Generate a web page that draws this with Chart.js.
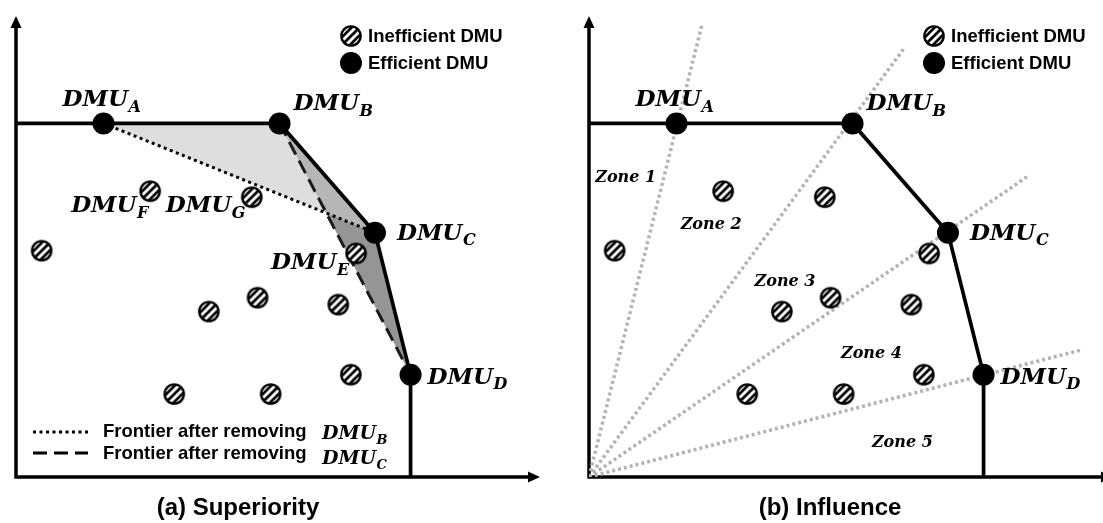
<!DOCTYPE html>
<html>
<head>
<meta charset="utf-8">
<script src="https://cdn.jsdelivr.net/npm/chart.js@4.4.0/dist/chart.umd.min.js"></script>
<style>
html, body { margin: 0; padding: 0; background: #fff; overflow: hidden; width: 1103px; height: 523px; }
.panel { position: absolute; top: 0; width: 551px; height: 523px; }
</style>
</head>
<body>
<div class="panel" style="left:0"><canvas id="chartA"></canvas></div>
<div class="panel" style="left:573px"><canvas id="chartB"></canvas></div>
<script>
// DMU positions (both panels show the same DMUs), axes run 0..100
const effNames = ['A', 'B', 'C', 'D'];
const effX = [16.7, 50.3, 68.5, 75.3];
const effY = [76.7, 76.7, 53.0, 22.2];

const ineffNames = ['F', 'G', '', 'E', '', '', '', '', '', ''];
const ineffX = [25.6, 45.0, 4.9, 64.9, 36.8, 46.1, 61.5, 63.9, 30.2, 48.6];
const ineffY = [62.0, 60.7, 49.1, 48.5, 35.9, 38.9, 37.4, 22.2, 18.0, 18.0];

// zone boundaries in panel (b): rays from the origin
const rayEndX = [21.6, 60.0, 83.7, 94.1];
const rayEndY = [98.3, 92.8, 65.2, 27.6];

const zoneNames = ['Zone 1', 'Zone 2', 'Zone 3', 'Zone 4', 'Zone 5'];
const zoneX = [7.0, 23.3, 37.4, 53.9, 59.8];
const zoneY = [65.0, 54.8, 42.4, 26.7, 7.4];

const SERIF = '"DejaVu Serif", "Liberation Serif", serif';
const SANS = '"Liberation Sans", Arial, sans-serif';

function makeHatch(r) {
    const s = Math.ceil(r * 2 + 4);
    const c = document.createElement('canvas');
    c.width = s; c.height = s;
    const g = c.getContext('2d');
    const m = s / 2;
    g.beginPath(); g.arc(m, m, r, 0, Math.PI * 2);
    g.fillStyle = '#fff'; g.fill();
    g.save(); g.clip();
    g.strokeStyle = '#000'; g.lineWidth = 2.7;
    for (let k = -3; k <= 3; k++) {
        const o = k * 5.6 / Math.SQRT2;
        g.beginPath();
        g.moveTo(m - 2 * r + o, m + 2 * r + o);
        g.lineTo(m + 2 * r + o, m - 2 * r + o);
        g.stroke();
    }
    g.restore();
    g.beginPath(); g.arc(m, m, r, 0, Math.PI * 2);
    g.lineWidth = 2.4; g.stroke();
    return c;
}
const hatch = makeHatch(9.6);

function pts(xs, ys) {
    return xs.map((x, i) => ({ x: x, y: ys[i] }));
}
function frontier() {
    return [{ x: 0, y: effY[0] }].concat(pts(effX, effY), [{ x: effX[3], y: 0 }]);
}

function px(chart, x) { return chart.scales.x.getPixelForValue(x); }
function py(chart, y) { return chart.scales.y.getPixelForValue(y); }

function drawAxes(ctx, a) {
    ctx.save();
    ctx.strokeStyle = '#000'; ctx.fillStyle = '#000'; ctx.lineWidth = 3.5;
    ctx.beginPath();
    ctx.moveTo(a.left, a.bottom + 1.7); ctx.lineTo(a.left, a.top + 8);
    ctx.moveTo(a.left - 1.7, a.bottom); ctx.lineTo(a.right - 8, a.bottom);
    ctx.stroke();
    ctx.beginPath();
    ctx.moveTo(a.left, a.top); ctx.lineTo(a.left - 5.5, a.top + 12); ctx.lineTo(a.left + 5.5, a.top + 12);
    ctx.closePath(); ctx.fill();
    ctx.beginPath();
    ctx.moveTo(a.right, a.bottom); ctx.lineTo(a.right - 12, a.bottom - 5.5); ctx.lineTo(a.right - 12, a.bottom + 5.5);
    ctx.closePath(); ctx.fill();
    ctx.restore();
}

function dmuLabel(ctx, sub, x, y, big, small) {
    ctx.textAlign = 'left';
    ctx.textBaseline = 'alphabetic';
    ctx.font = 'italic bold ' + big + 'px ' + SERIF;
    ctx.fillText('DMU', x, y);
    const w = ctx.measureText('DMU').width;
    ctx.font = 'italic bold ' + small + 'px ' + SERIF;
    ctx.fillText(sub, x + w + 0.5, y + big * 0.24);
}

// label offsets (px) from each point
const labelOffset = { A: [-41, -17], B: [14, -13], C: [22, 7], D: [17, 9], F: [-79, 21], G: [-86, 15], E: [-85, 16] };

function drawPointLabels(chart, withIneff) {
    const ctx = chart.ctx;
    ctx.save();
    ctx.fillStyle = '#000';
    effNames.forEach((n, i) => {
        const o = labelOffset[n];
        dmuLabel(ctx, n, px(chart, effX[i]) + o[0], py(chart, effY[i]) + o[1], 23, 16);
    });
    if (withIneff) {
        ineffNames.forEach((n, i) => {
            if (!n) return;
            const o = labelOffset[n];
            dmuLabel(ctx, n, px(chart, ineffX[i]) + o[0], py(chart, ineffY[i]) + o[1], 23, 16);
        });
    }
    ctx.restore();
}

function drawTopLegend(ctx, x) {
    ctx.save();
    ctx.drawImage(hatch, x - hatch.width / 2, 36 - hatch.height / 2);
    ctx.beginPath(); ctx.arc(x, 63, 11, 0, Math.PI * 2);
    ctx.fillStyle = '#000'; ctx.fill();
    ctx.font = 'bold 18.5px ' + SANS;
    ctx.textBaseline = 'middle'; ctx.textAlign = 'left';
    ctx.fillText('Inefficient DMU', x + 17, 37);
    ctx.fillText('Efficient DMU', x + 17, 64);
    ctx.restore();
}

function drawTitle(ctx, text, x) {
    ctx.save();
    ctx.font = 'bold 24px ' + SANS;
    ctx.fillStyle = '#000';
    ctx.textAlign = 'center'; ctx.textBaseline = 'middle';
    ctx.fillText(text, x, 508);
    ctx.restore();
}

function fillPoly(chart, idx, color) {
    const ctx = chart.ctx;
    ctx.save();
    ctx.beginPath();
    idx.forEach((k, j) => {
        const X = px(chart, effX[k]), Y = py(chart, effY[k]);
        if (j === 0) ctx.moveTo(X, Y); else ctx.lineTo(X, Y);
    });
    ctx.closePath();
    ctx.fillStyle = color;
    ctx.fill();
    ctx.restore();
}

const decorA = {
    id: 'decorA',
    beforeDatasetsDraw(chart) {
        fillPoly(chart, [1, 2, 3], '#959595');
        fillPoly(chart, [0, 1, 2], 'rgba(205,200,205,0.62)');
        drawAxes(chart.ctx, chart.chartArea);
    },
    afterDatasetsDraw(chart) {
        const ctx = chart.ctx;
        drawPointLabels(chart, true);
        drawTopLegend(ctx, 351);
        // bottom legend
        ctx.save();
        ctx.strokeStyle = '#000'; ctx.lineWidth = 3;
        ctx.setLineDash([3, 3.5]);
        ctx.beginPath(); ctx.moveTo(33, 432); ctx.lineTo(88, 432); ctx.stroke();
        ctx.setLineDash([14, 7]);
        ctx.beginPath(); ctx.moveTo(33, 453); ctx.lineTo(88, 453); ctx.stroke();
        ctx.setLineDash([]);
        ctx.fillStyle = '#000';
        ctx.font = 'bold 18.5px ' + SANS;
        ctx.textBaseline = 'middle'; ctx.textAlign = 'left';
        ctx.fillText('Frontier after removing', 103, 432);
        ctx.fillText('Frontier after removing', 103, 454);
        dmuLabel(ctx, 'B', 322, 439, 19, 13);
        dmuLabel(ctx, 'C', 322, 464, 19, 13);
        ctx.restore();
        drawTitle(ctx, '(a) Superiority', 238);
    }
};

const decorB = {
    id: 'decorB',
    beforeDatasetsDraw(chart) {
        drawAxes(chart.ctx, chart.chartArea);
    },
    afterDatasetsDraw(chart) {
        const ctx = chart.ctx;
        drawPointLabels(chart, false);
        drawTopLegend(ctx, 361);
        ctx.save();
        ctx.fillStyle = '#000';
        ctx.font = 'italic bold 16px ' + SERIF;
        ctx.textAlign = 'center'; ctx.textBaseline = 'middle';
        zoneNames.forEach((z, i) => ctx.fillText(z, px(chart, zoneX[i]), py(chart, zoneY[i])));
        ctx.restore();
        drawTitle(ctx, '(b) Influence', 257);
    }
};

const pointSets = [
    {
        data: pts(effX, effY), showLine: false, order: 0,
        pointStyle: 'circle', pointRadius: 11, pointBackgroundColor: '#000', pointBorderWidth: 0
    },
    {
        data: pts(ineffX, ineffY), showLine: false, order: 1,
        pointStyle: hatch, pointRadius: 10
    }
];

function frontierSet() {
    return {
        data: frontier(), showLine: true, order: 2, borderColor: '#000', borderWidth: 3.7,
        pointRadius: 0, tension: 0, fill: false
    };
}

function baseOptions() {
    return {
        responsive: true,
        maintainAspectRatio: false,
        animation: false,
        events: [],
        layout: { padding: { left: 16, top: 16, right: 8, bottom: 46 } },
        scales: {
            x: { type: 'linear', min: 0, max: 100, display: false },
            y: { type: 'linear', min: 0, max: 100, display: false }
        },
        plugins: { legend: { display: false }, tooltip: { enabled: false } }
    };
}

new Chart(document.getElementById('chartA'), {
    type: 'scatter',
    data: {
        datasets: pointSets.concat([
            frontierSet(),
            {
                data: [{ x: effX[0], y: effY[0] }, { x: effX[2], y: effY[2] }],
                showLine: true, order: 3, borderColor: '#000', borderWidth: 3,
                borderDash: [3, 3.5], pointRadius: 0
            },
            {
                data: [{ x: effX[1], y: effY[1] }, { x: effX[3], y: effY[3] }],
                showLine: true, order: 4, borderColor: '#1a1a1a', borderWidth: 3,
                borderDash: [14, 7], pointRadius: 0
            }
        ])
    },
    options: baseOptions(),
    plugins: [decorA]
});

const raySets = rayEndX.map((x, i) => ({
    data: [{ x: 0, y: 0 }, { x: x, y: rayEndY[i] }],
    showLine: true, order: 5, borderColor: '#b3b3b3', borderWidth: 3.5,
    borderDash: [3, 3], pointRadius: 0
}));

new Chart(document.getElementById('chartB'), {
    type: 'scatter',
    data: {
        datasets: [
            Object.assign({}, pointSets[0], { data: pts(effX, effY) }),
            Object.assign({}, pointSets[1], { data: pts(ineffX, ineffY) }),
            frontierSet()
        ].concat(raySets)
    },
    options: baseOptions(),
    plugins: [decorB]
});
</script>
</body>
</html>
